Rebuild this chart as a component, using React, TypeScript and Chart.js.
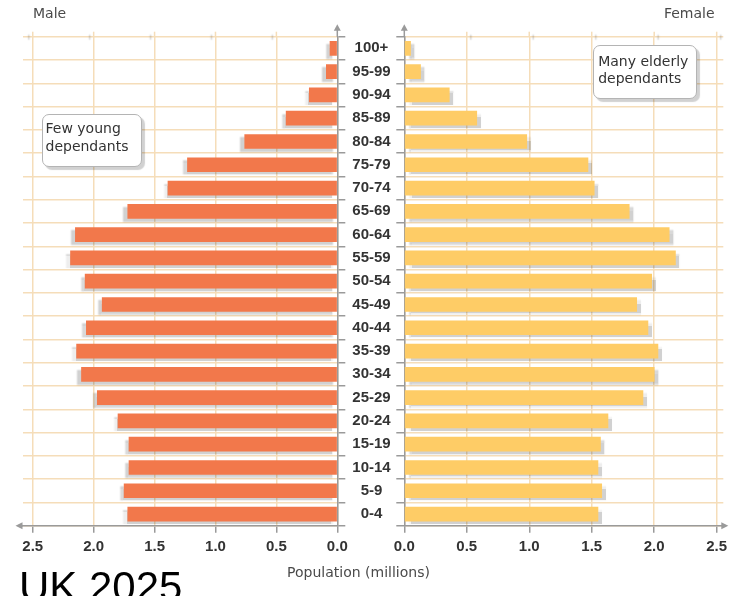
import React, { useEffect, useRef } from 'react';
import { Chart, registerables } from 'chart.js';

Chart.register(...registerables);

// ---- data (bottom to top) ----
const ageGroups = ['0-4', '5-9', '10-14', '15-19', '20-24', '25-29', '30-34', '35-39', '40-44', '45-49', '50-54', '55-59', '60-64', '65-69', '70-74', '75-79', '80-84', '85-89', '90-94', '95-99', '100+'];
const maleValues = [1.72, 1.75, 1.71, 1.71, 1.80, 1.97, 2.10, 2.14, 2.06, 1.93, 2.07, 2.19, 2.15, 1.72, 1.39, 1.23, 0.76, 0.42, 0.23, 0.09, 0.06];
const femaleValues = [1.55, 1.58, 1.55, 1.57, 1.63, 1.91, 2.00, 2.03, 1.95, 1.86, 1.98, 2.17, 2.12, 1.80, 1.52, 1.47, 0.98, 0.58, 0.36, 0.13, 0.05];
const tickStep = 0.5;

const MALE_COLOR = '#f2784b';
const FEMALE_COLOR = '#fecc66';
const GRID = '#f5ddb9';
const AXIS = '#9a9a9a';
const LABEL = '#333333';
const TICK_FONT = { family: '"Liberation Sans", Arial, sans-serif', size: 15, weight: 'bold' as const };

const barShadow = {
  id: 'barShadow',
  beforeDatasetsDraw(chart: any, _a: any, opts: any) {
    const ctx = chart.ctx;
    ctx.save();
    ctx.shadowColor = 'rgba(0,0,0,0.18)';
    ctx.shadowOffsetX = opts.offsetX ?? 4;
    ctx.shadowOffsetY = 3;
    ctx.shadowBlur = 1.5;
  },
  afterDatasetsDraw(chart: any) {
    chart.ctx.restore();
  },
};

const axisArrows = {
  id: 'axisArrows',
  beforeDatasetsDraw(chart: any) {
    const { ctx, chartArea } = chart;
    const xs = chart.scales.x;
    ctx.save();
    ctx.strokeStyle = GRID;
    ctx.lineWidth = 1.5;
    xs.ticks.forEach((t: any) => {
      if (t.value === 0) return;
      const px = xs.getPixelForValue(t.value);
      ctx.beginPath();
      ctx.moveTo(px, chartArea.top - 5);
      ctx.lineTo(px, chartArea.top);
      ctx.stroke();
    });
    ctx.restore();
  },
  afterDraw(chart: any, _a: any, opts: any) {
    const { ctx, chartArea } = chart;
    const isLeft = opts.side === 'left';
    const axisX = isLeft ? chartArea.right : chartArea.left;
    const axisY = chartArea.bottom;
    ctx.save();
    ctx.strokeStyle = AXIS;
    ctx.fillStyle = AXIS;
    ctx.lineWidth = 1.5;
    const tipY = chartArea.top - 12.5;
    ctx.beginPath();
    ctx.moveTo(axisX, chartArea.top);
    ctx.lineTo(axisX, tipY + 5);
    ctx.stroke();
    ctx.beginPath();
    ctx.moveTo(axisX, tipY);
    ctx.lineTo(axisX - 3.5, tipY + 6.5);
    ctx.lineTo(axisX + 3.5, tipY + 6.5);
    ctx.closePath();
    ctx.fill();
    if (isLeft) {
      const tipX = chartArea.left - 7.5;
      ctx.beginPath();
      ctx.moveTo(chartArea.left, axisY);
      ctx.lineTo(tipX + 5, axisY);
      ctx.stroke();
      ctx.beginPath();
      ctx.moveTo(tipX, axisY);
      ctx.lineTo(tipX + 7, axisY - 3.5);
      ctx.lineTo(tipX + 7, axisY + 3.5);
      ctx.closePath();
      ctx.fill();
    } else {
      const tipX = chartArea.right + 5;
      ctx.beginPath();
      ctx.moveTo(chartArea.right, axisY);
      ctx.lineTo(tipX - 5, axisY);
      ctx.stroke();
      ctx.beginPath();
      ctx.moveTo(tipX, axisY);
      ctx.lineTo(tipX - 7, axisY - 3.5);
      ctx.lineTo(tipX - 7, axisY + 3.5);
      ctx.closePath();
      ctx.fill();
    }
    ctx.restore();
  },
};

function makeConfig(side: 'left' | 'right'): any {
  const isLeft = side === 'left';
  return {
    type: 'bar',
    data: {
      labels: ageGroups,
      datasets: [
        {
          label: isLeft ? 'Male' : 'Female',
          data: isLeft ? maleValues : femaleValues,
          backgroundColor: isLeft ? MALE_COLOR : FEMALE_COLOR,
          borderWidth: 0,
          barThickness: 14,
        },
      ],
    },
    plugins: [barShadow, axisArrows],
    options: {
      indexAxis: 'y',
      responsive: false,
      animation: false,
      layout: {
        padding: isLeft
          ? { left: 23, top: 36.7, right: 0, bottom: 0 }
          : { left: 0, top: 36.7, right: 11.7, bottom: 0 },
      },
      plugins: {
        legend: { display: false },
        tooltip: { enabled: false },
        barShadow: { offsetX: isLeft ? -4 : 4 },
        axisArrows: { side },
      },
      scales: {
        x: {
          type: 'linear',
          reverse: isLeft,
          min: 0,
          max: isLeft ? 2.58 : 2.553,
          ticks: {
            stepSize: tickStep,
            includeBounds: false,
            maxRotation: 0,
            autoSkip: false,
            padding: 5,
            color: LABEL,
            font: TICK_FONT,
            callback: (v: number) => Number(v).toFixed(1),
          },
          grid: {
            color: GRID,
            lineWidth: 1.5,
            tickLength: 7,
            tickColor: AXIS,
            tickWidth: 1.5,
          },
          border: { color: AXIS, width: 1.5 },
          afterFit: (s: any) => {
            s.height = 70.3;
          },
        },
        y: {
          type: 'category',
          position: isLeft ? 'right' : 'left',
          reverse: true,
          grid: {
            color: GRID,
            lineWidth: 1.5,
            offset: true,
            tickLength: 8,
            tickColor: AXIS,
            tickWidth: 1.5,
          },
          border: { color: AXIS, width: 1.5 },
          ticks: {
            display: isLeft,
            autoSkip: false,
            crossAlign: 'center',
            padding: 7,
            color: LABEL,
            font: TICK_FONT,
          },
          afterFit: (s: any) => {
            s.width = isLeft ? 72.7 : 24.3;
          },
        },
      },
    },
  };
}

const annoFont = '"DejaVu Sans", Verdana, sans-serif';

export default function App() {
  const leftRef = useRef<HTMLCanvasElement>(null);
  const rightRef = useRef<HTMLCanvasElement>(null);

  useEffect(() => {
    const l = new Chart(leftRef.current as HTMLCanvasElement, makeConfig('left'));
    const r = new Chart(rightRef.current as HTMLCanvasElement, makeConfig('right'));
    return () => {
      l.destroy();
      r.destroy();
    };
  }, []);

  const boxStyle: React.CSSProperties = {
    position: 'absolute',
    boxSizing: 'border-box',
    background: '#fff',
    border: '1.5px solid #b4b4b4',
    borderRadius: 7,
    boxShadow: '3px 3px 1px rgba(0,0,0,0.18)',
    fontFamily: annoFont,
    fontSize: 14,
    lineHeight: '17.6px',
    color: '#333',
    whiteSpace: 'nowrap',
  };

  return (
    <div
      style={{
        position: 'absolute',
        left: 0,
        top: 0,
        width: 735,
        height: 596,
        overflow: 'hidden',
        background: '#fff',
      }}
    >
      <canvas
        ref={leftRef}
        width={410}
        height={596}
        style={{ position: 'absolute', left: 0, top: 0, width: 410, height: 596 }}
      />
      <canvas
        ref={rightRef}
        width={355}
        height={596}
        style={{ position: 'absolute', left: 380, top: 0, width: 355, height: 596 }}
      />
      <div
        style={{
          position: 'absolute',
          left: 33,
          top: 4.5,
          fontFamily: annoFont,
          fontSize: 14,
          lineHeight: '16px',
          color: '#4a4a4a',
        }}
      >
        Male
      </div>
      <div
        style={{
          position: 'absolute',
          right: 20.5,
          top: 4.5,
          fontFamily: annoFont,
          fontSize: 14,
          lineHeight: '16px',
          color: '#4a4a4a',
          textAlign: 'right',
        }}
      >
        Female
      </div>
      <div
        style={{
          position: 'absolute',
          left: 258.5,
          width: 200,
          top: 563.5,
          fontFamily: annoFont,
          fontSize: 14,
          lineHeight: '16px',
          color: '#4a4a4a',
          textAlign: 'center',
        }}
      >
        Population (millions)
      </div>
      <div style={{ ...boxStyle, left: 42, top: 114, width: 100, height: 53, paddingLeft: 2.5, paddingTop: 5 }}>
        Few young
        <br />
        dependants
      </div>
      <div style={{ ...boxStyle, left: 592.5, top: 45, width: 104.5, height: 53.5, paddingLeft: 4.7, paddingTop: 6.5 }}>
        Many elderly
        <br />
        dependants
      </div>
      <div
        style={{
          position: 'absolute',
          left: 19,
          top: 566,
          fontFamily: '"Liberation Sans", Arial, sans-serif',
          fontSize: 42,
          lineHeight: '42px',
          color: '#000',
          whiteSpace: 'nowrap',
        }}
      >
        UK 2025
      </div>
    </div>
  );
}
